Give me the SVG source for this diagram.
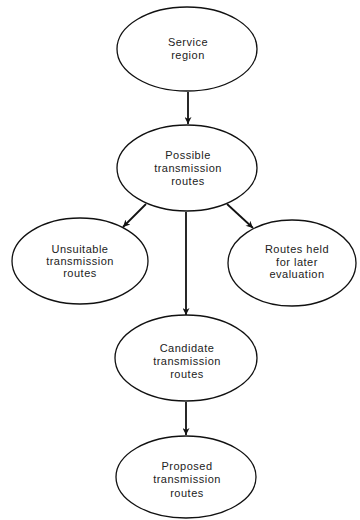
<svg xmlns="http://www.w3.org/2000/svg" width="360" height="520" viewBox="0 0 360 520">
  <defs>
    <marker id="arrow" viewBox="0 0 10 10" refX="10" refY="5" markerWidth="9" markerHeight="7" markerUnits="userSpaceOnUse" orient="auto">
      <path d="M0,0 L10,5 L0,10 L3,5 Z" fill="#111"/>
    </marker>
  </defs>
  <style>
    .node ellipse { fill: #fff; stroke: #111; stroke-width: 1.3; }
    .node text { font-family: "Liberation Sans", Arial, sans-serif; font-size: 11px; letter-spacing: 0.5px; fill: #222; text-anchor: middle; }
    .edge { stroke: #111; stroke-width: 1.8; fill: none; marker-end: url(#arrow); }
  </style>
  <rect width="360" height="520" fill="#fff"/>

  <g id="connectors">
    <line class="edge" x1="188" y1="92" x2="188" y2="124"/>
    <line class="edge" x1="146" y1="204" x2="123" y2="227"/>
    <line class="edge" x1="227" y1="204" x2="253" y2="228"/>
    <line class="edge" x1="186" y1="212" x2="186" y2="315"/>
    <line class="edge" x1="186" y1="402" x2="186" y2="435"/>
  </g>

  <g id="service-region" class="node">
    <ellipse cx="187" cy="49" rx="70" ry="42"/>
    <text x="188" y="46">Service</text>
    <text x="188" y="59">region</text>
  </g>

  <g id="possible-routes" class="node">
    <ellipse cx="187" cy="168" rx="70" ry="43"/>
    <text x="188" y="159">Possible</text>
    <text x="188" y="172">transmission</text>
    <text x="188" y="185">routes</text>
  </g>

  <g id="unsuitable-routes" class="node">
    <ellipse cx="80" cy="261" rx="68" ry="43"/>
    <text x="80" y="253">Unsuitable</text>
    <text x="80" y="265">transmission</text>
    <text x="80" y="277">routes</text>
  </g>

  <g id="held-routes" class="node">
    <ellipse cx="292" cy="263" rx="64" ry="43"/>
    <text x="297" y="253">Routes held</text>
    <text x="297" y="266">for later</text>
    <text x="297" y="278">evaluation</text>
  </g>

  <g id="candidate-routes" class="node">
    <ellipse cx="186" cy="358" rx="71" ry="43"/>
    <text x="187" y="352">Candidate</text>
    <text x="187" y="365">transmission</text>
    <text x="187" y="378">routes</text>
  </g>

  <g id="proposed-routes" class="node">
    <ellipse cx="186" cy="477" rx="70" ry="41"/>
    <text x="187" y="470">Proposed</text>
    <text x="187" y="483">transmission</text>
    <text x="187" y="497">routes</text>
  </g>
</svg>
